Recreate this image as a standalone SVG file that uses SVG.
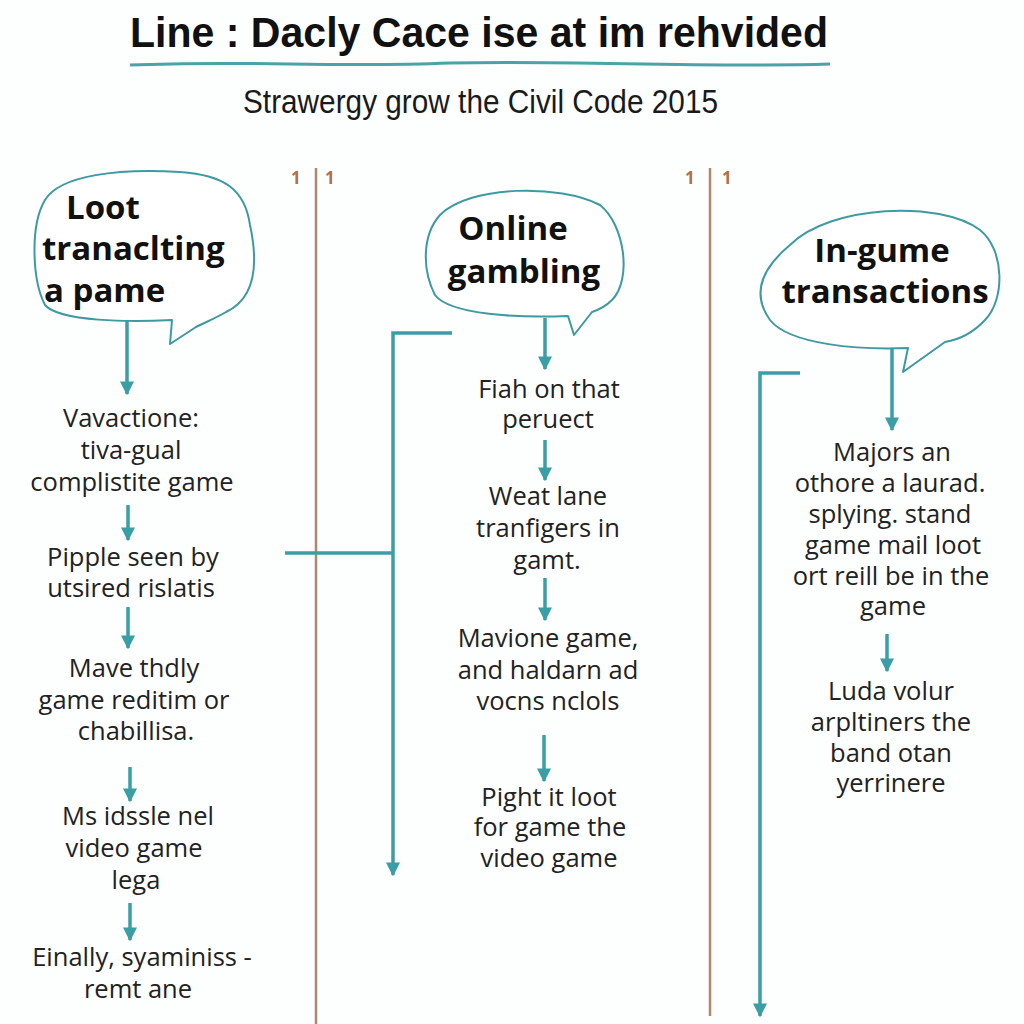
<svg xmlns="http://www.w3.org/2000/svg" width="1024" height="1024" viewBox="0 0 1024 1024">
<style>
.title{font-family:"Liberation Sans",Arial,sans-serif;font-weight:bold;fill:#111}
.sub{font-family:"Liberation Sans",Arial,sans-serif;fill:#1a1a1a}
.head{font-family:"Open Sans","Noto Sans",sans-serif;font-weight:bold;font-size:33px;fill:#111}
.body{font-family:"Open Sans","Noto Sans",sans-serif;font-size:25.5px;fill:#222;text-anchor:middle}
.bubble{fill:#fff;stroke:#3d9aa0;stroke-width:2;stroke-linejoin:round}
.conn{stroke:#3a9ea5;stroke-width:3.5;fill:none}
.brown{stroke:#b0876a;stroke-width:2.5;fill:none}
.num{font-family:"Open Sans","Noto Sans",sans-serif;font-weight:bold;font-size:17px;fill:#b0704a}
</style>
<defs>
<marker id="ah" viewBox="0 0 10 10" refX="9" refY="5" markerWidth="4" markerHeight="4" orient="auto" markerUnits="strokeWidth">
<path d="M0,0 L10,5 L0,10 Z" fill="#3a9ea5"/>
</marker>
</defs>
<rect width="1024" height="1024" fill="#fdfefe"/>

<g id="header">
<text class="title" x="130" y="47" font-size="43" textLength="698" lengthAdjust="spacingAndGlyphs">Line : Dacly Cace ise at im rehvided</text>
<path d="M130,65 C250,60 330,68 450,63 C570,60 700,68 830,64" stroke="#4aa3a6" stroke-width="3" fill="none"/>
<text class="sub" x="243" y="113" font-size="33" textLength="475" lengthAdjust="spacingAndGlyphs">Strawergy grow the Civil Code 2015</text>
</g>

<g id="dividers">
<line class="brown" x1="316" y1="168" x2="316" y2="1024"/>
<line class="brown" x1="710" y1="168" x2="710" y2="1016"/>
<text class="num" x="291" y="184">1</text>
<text class="num" x="325" y="184">1</text>
<text class="num" x="685" y="184">1</text>
<text class="num" x="722" y="184">1</text>
</g>

<g id="connectors">
<line class="conn" x1="127" y1="318" x2="127" y2="394" marker-end="url(#ah)"/>
<line class="conn" x1="128" y1="505" x2="128" y2="540" marker-end="url(#ah)"/>
<line class="conn" x1="128" y1="607" x2="128" y2="648" marker-end="url(#ah)"/>
<line class="conn" x1="130" y1="767" x2="130" y2="801" marker-end="url(#ah)"/>
<line class="conn" x1="130" y1="903" x2="130" y2="940" marker-end="url(#ah)"/>
<line class="conn" x1="545" y1="318" x2="545" y2="369" marker-end="url(#ah)"/>
<line class="conn" x1="545" y1="440" x2="545" y2="480" marker-end="url(#ah)"/>
<line class="conn" x1="545" y1="578" x2="545" y2="620" marker-end="url(#ah)"/>
<line class="conn" x1="544" y1="735" x2="544" y2="781" marker-end="url(#ah)"/>
<line class="conn" x1="892" y1="342" x2="892" y2="430" marker-end="url(#ah)"/>
<line class="conn" x1="887" y1="634" x2="887" y2="671" marker-end="url(#ah)"/>
<line class="conn" x1="285" y1="553" x2="393" y2="553"/>
<path class="conn" d="M452,333 L393,333 L393,875" marker-end="url(#ah)"/>
<path class="conn" d="M800,373 L760,373 L760,1016" marker-end="url(#ah)"/>
</g>

<g id="node-loot">
<path class="bubble" d="M45,200 C60,175 120,168 180,172 C225,175 245,190 250,225 C258,262 256,298 226,312 C216,318 206,322 196,327 L170,344 L172,320 C130,322 60,322 45,305 C32,280 30,225 45,200 Z"/>
<text class="head" x="66" y="219">Loot</text>
<text class="head" x="42" y="260">tranaclting</text>
<text class="head" x="44" y="302">a pame</text>
</g>
<g id="node-loot-steps">
<text class="body" x="131" y="427">Vavactione:</text>
<text class="body" x="131" y="459">tiva-gual</text>
<text class="body" x="132" y="491">complistite game</text>
<text class="body" x="133" y="566">Pipple seen by</text>
<text class="body" x="131" y="597">utsired rislatis</text>
<text class="body" x="134" y="677">Mave thdly</text>
<text class="body" x="134" y="709">game reditim or</text>
<text class="body" x="136" y="740">chabillisa.</text>
<text class="body" x="138" y="825">Ms idssle nel</text>
<text class="body" x="134" y="857">video game</text>
<text class="body" x="136" y="889">lega</text>
<text class="body" x="142" y="966">Einally, syaminiss -</text>
<text class="body" x="138" y="998">remt ane</text>
</g>

<g id="node-gambling">
<path class="bubble" d="M440,215 C470,185 560,184 600,205 C625,225 632,280 612,300 C606,306 598,310 592,312 L574,335 L568,316 C520,318 450,315 435,295 C422,270 422,235 440,215 Z"/>
<text class="head" x="513" y="240" text-anchor="middle">Online</text>
<text class="head" x="524" y="283" text-anchor="middle">gambling</text>
</g>
<g id="node-gambling-steps">
<text class="body" x="549" y="398">Fiah on that</text>
<text class="body" x="548" y="428">peruect</text>
<text class="body" x="548" y="505">Weat lane</text>
<text class="body" x="548" y="537">tranfigers in</text>
<text class="body" x="547" y="569">gamt.</text>
<text class="body" x="548" y="647">Mavione game,</text>
<text class="body" x="548" y="679">and haldarn ad</text>
<text class="body" x="548" y="710">vocns nclols</text>
<text class="body" x="549" y="806">Pight it loot</text>
<text class="body" x="550" y="836">for game the</text>
<text class="body" x="549" y="867">video game</text>
</g>

<g id="node-ingame">
<path class="bubble" d="M790,245 C830,205 940,200 980,230 C1005,250 1005,300 985,320 C972,334 957,340 945,342 L903,372 L908,348 C860,350 790,345 770,320 C752,295 760,270 790,245 Z"/>
<text class="head" x="882" y="262" text-anchor="middle">In-gume</text>
<text class="head" x="885" y="303" text-anchor="middle">transactions</text>
</g>
<g id="node-ingame-steps">
<text class="body" x="892" y="461">Majors an</text>
<text class="body" x="890" y="492">othore a laurad.</text>
<text class="body" x="890" y="523">splying. stand</text>
<text class="body" x="893" y="554">game mail loot</text>
<text class="body" x="891" y="585">ort reill be in the</text>
<text class="body" x="893" y="615">game</text>
<text class="body" x="891" y="700">Luda volur</text>
<text class="body" x="891" y="731">arpltiners the</text>
<text class="body" x="891" y="762">band otan</text>
<text class="body" x="891" y="792">yerrinere</text>
</g>
</svg>
